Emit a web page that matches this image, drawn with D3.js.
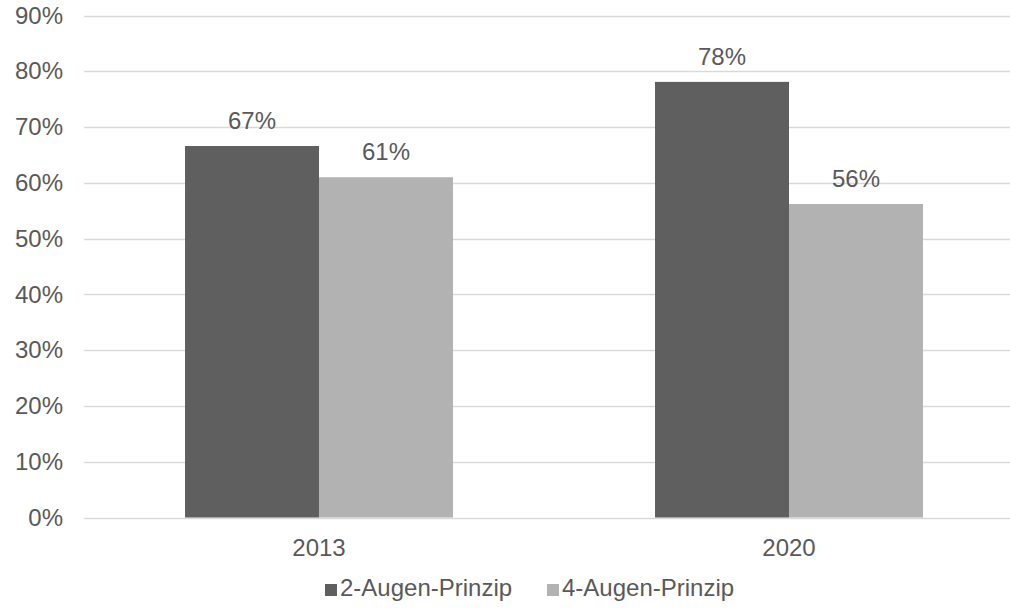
<!DOCTYPE html>
<html>
<head>
<meta charset="utf-8">
<script src="https://cdn.jsdelivr.net/npm/d3@7"></script>
<style>
  html, body { margin: 0; padding: 0; background: #fff; }
  svg { display: block; font-family: "Liberation Sans", Arial, sans-serif; }
</style>
</head>
<body>
<svg id="chart" width="1010" height="612"></svg>
<script>
const categories = ["2013", "2020"];
const seriesNames = ["2-Augen-Prinzip", "4-Augen-Prinzip"];
const series2Augen = [0.666, 0.781];
const series4Augen = [0.610, 0.562];
const valueLabels2 = ["67%", "78%"];
const valueLabels4 = ["61%", "56%"];
const yTicks = [0, 0.1, 0.2, 0.3, 0.4, 0.5, 0.6, 0.7, 0.8, 0.9];
const colors = ["#5f5f5f", "#b2b2b2"];

const svg = d3.select("#chart");
const textColor = "#595959";
const fontSize = 24;

const x0 = d3.scaleBand().domain(categories).range([84, 1024]).paddingInner(0).paddingOuter(0);
const x1 = d3.scaleBand().domain(seriesNames).range([0, x0.bandwidth()]).paddingInner(0).paddingOuter(0.754);
const y = d3.scaleLinear().domain([0, 0.9]).range([517.5, 15.5]);

// gridlines
svg.append("g").selectAll("line").data(yTicks).join("line")
  .attr("x1", 84).attr("x2", 1010)
  .attr("y1", d => Math.round(y(d)) + 0.5).attr("y2", d => Math.round(y(d)) + 0.5)
  .attr("stroke", "#d9d9d9").attr("stroke-width", 1.3);

// y axis labels
const yAxis = d3.axisLeft(y).tickValues(yTicks).tickFormat(d3.format(".0%")).tickSize(0).tickPadding(0);
const yg = svg.append("g").attr("transform", "translate(63,0)").call(yAxis);
yg.select(".domain").remove();
yg.selectAll("text").attr("fill", textColor).attr("font-size", fontSize)
  .attr("font-family", "'Liberation Sans', Arial, sans-serif");

// bars
const rows = categories.map((c, i) => ({
  cat: c,
  vals: [
    {s: seriesNames[0], v: series2Augen[i], label: valueLabels2[i], color: colors[0]},
    {s: seriesNames[1], v: series4Augen[i], label: valueLabels4[i], color: colors[1]}
  ]
}));

const groups = svg.append("g").selectAll("g").data(rows).join("g")
  .attr("transform", d => `translate(${x0(d.cat)},0)`);

groups.selectAll("rect").data(d => d.vals).join("rect")
  .attr("x", d => x1(d.s))
  .attr("width", x1.bandwidth())
  .attr("y", d => y(d.v))
  .attr("height", d => y(0) - y(d.v))
  .attr("fill", d => d.color);

groups.selectAll("text").data(d => d.vals).join("text")
  .attr("x", d => x1(d.s) + x1.bandwidth() / 2)
  .attr("y", d => y(d.v) - 17)
  .attr("text-anchor", "middle")
  .attr("fill", textColor)
  .attr("font-size", fontSize)
  .text(d => d.label);

// x axis labels
const xAxis = d3.axisBottom(x0).tickSize(0).tickPadding(0);
const xg = svg.append("g").attr("transform", "translate(0,539)").call(xAxis);
xg.select(".domain").remove();
xg.selectAll("text").attr("fill", textColor).attr("font-size", fontSize)
  .attr("font-family", "'Liberation Sans', Arial, sans-serif");

// legend
const legendX = [325, 547];
const legend = svg.append("g").selectAll("g").data(seriesNames).join("g")
  .attr("transform", (d, i) => `translate(${legendX[i]},584)`);
legend.append("rect").attr("width", 12).attr("height", 12).attr("fill", (d, i) => colors[i]);
legend.append("text").attr("x", 15).attr("y", 12).attr("fill", textColor)
  .attr("font-size", fontSize).text(d => d);
</script>
</body>
</html>
